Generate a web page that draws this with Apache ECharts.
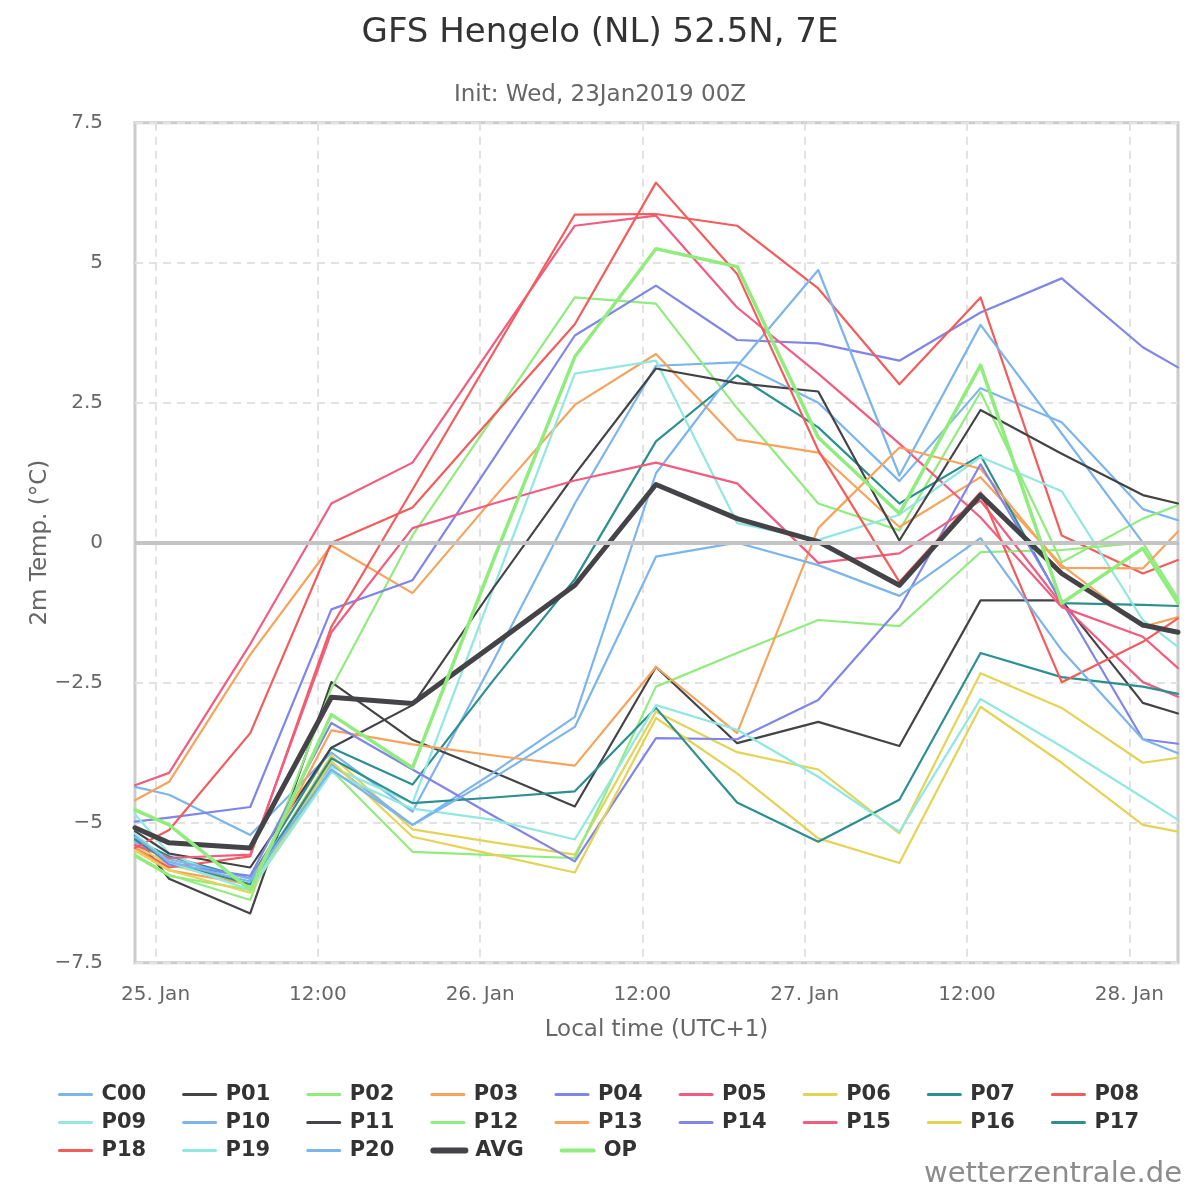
<!DOCTYPE html>
<html>
<head>
<meta charset="utf-8">
<title>GFS Hengelo</title>
<script src="https://cdn.jsdelivr.net/npm/echarts/dist/echarts.min.js"></script>
<style>
  html, body { margin: 0; padding: 0; background: #fff; }
  #chart { width: 1200px; height: 1200px; }
</style>
</head>
<body>
<div id="chart"></div>
<script>
// hours since 25 Jan 00:00 local (UTC+1); first and last points sit on the plot edges
const hours = [-1.52, 1, 7, 13, 19, 25, 31, 37, 43, 49, 55, 61, 67, 73, 75.6];

const xTickHours = [0, 12, 24, 36, 48, 60, 72];
const xTickLabels = ["25. Jan", "12:00", "26. Jan", "12:00", "27. Jan", "12:00", "28. Jan"];

// 2m temperature (°C) per member
const C00 = [-4.36, -4.5, -5.22, -3.75, -4.8, -2.1, 0.7, 3.16, 3.22, 2.5, 1.1, 2.76, 2.15, 0.6, 0.4];
const P01 = [-5.22, -6.0, -6.62, -2.49, -3.52, -4.1, -4.71, -2.22, -3.58, -3.2, -3.63, -1.03, -1.03, -2.86, -3.05];
const P02 = [-5.57, -5.93, -6.38, -2.6, 0.13, 2.25, 4.38, 4.27, 2.4, 0.7, 0.22, 2.69, -0.35, 0.43, 0.67];
const P03 = [-4.6, -4.27, -2.0, -0.05, -0.9, 0.8, 2.46, 3.37, 1.84, 1.61, 0.28, 1.17, -0.4, -1.5, -1.33];
const P04 = [-4.98, -4.91, -4.72, -1.19, -0.67, 1.5, 3.7, 4.59, 3.62, 3.56, 3.25, 4.11, 4.72, 3.49, 3.13];
const P05 = [-4.33, -4.11, -1.81, 0.7, 1.43, 3.55, 5.66, 5.84, 4.2, 3.02, 1.77, 0.45, -1.15, -1.68, -2.24];
const P06 = [-5.4, -5.75, -6.1, -3.8, -5.12, -5.35, -5.57, -3.02, -3.74, -4.05, -5.19, -2.33, -2.95, -3.93, -3.84];
const P07 = [-5.3, -5.6, -6.0, -3.66, -4.32, -2.45, -0.65, 1.81, 2.99, 2.06, 0.7, 1.56, -1.08, -1.11, -1.13];
const P08 = [-5.45, -5.8, -5.6, -1.5, 0.95, 3.4, 5.86, 5.87, 5.66, 4.54, 2.83, 4.38, 0.13, -0.55, -0.31];
const P09 = [-4.85, -5.55, -6.15, -4.0, -4.65, -0.8, 3.02, 3.25, 0.35, 0.05, 0.5, 1.53, 0.92, -1.38, -1.86];
const P10 = [-5.35, -5.65, -6.0, -3.95, -5.04, -4.1, -3.11, 1.24, 3.15, 4.87, 1.2, 3.89, 1.95, 0.0, -0.02];
const P11 = [-5.15, -5.55, -5.8, -3.66, -2.9, -0.8, 1.22, 3.11, 2.85, 2.7, 0.04, 2.37, 1.59, 0.85, 0.7];
const P12 = [-5.6, -5.95, -6.2, -4.06, -5.52, -5.58, -5.63, -2.57, -1.97, -1.38, -1.49, -0.17, -0.13, 0.0, -1.0];
const P13 = [-5.45, -5.85, -6.1, -3.35, -3.6, -3.8, -3.98, -2.22, -3.4, 0.26, 1.7, 1.32, -0.45, -0.46, 0.2];
const P14 = [-5.25, -5.75, -5.95, -3.22, -4.05, -4.88, -5.69, -3.49, -3.51, -2.81, -1.17, 1.4, -1.05, -3.51, -3.59];
const P15 = [-5.4, -5.63, -5.57, -1.6, 0.26, 0.7, 1.11, 1.43, 1.06, -0.36, -0.19, 0.75, -1.1, -2.49, -2.75];
const P16 = [-5.5, -5.85, -6.25, -3.9, -5.25, -5.57, -5.89, -3.13, -4.12, -5.28, -5.72, -2.93, -3.93, -5.04, -5.16];
const P17 = [-5.3, -5.7, -6.1, -3.85, -4.65, -4.55, -4.44, -2.95, -4.64, -5.34, -4.59, -1.97, -2.4, -2.57, -2.7];
const P18 = [-5.45, -5.13, -3.4, 0.0, 0.63, 2.27, 3.9, 6.43, 4.8, 1.65, -0.7, 0.9, -2.49, -1.77, -1.35];
const P19 = [-5.2, -5.7, -6.2, -4.1, -4.75, -4.95, -5.3, -2.9, -3.34, -4.18, -5.16, -2.79, -3.64, -4.55, -4.95];
const P20 = [-5.25, -5.7, -6.05, -4.05, -5.04, -4.2, -3.29, -0.25, 0.0, -0.4, -0.95, 0.08, -1.92, -3.51, -3.76];
const AVG = [-5.09, -5.36, -5.45, -2.76, -2.87, -1.82, -0.76, 1.04, 0.43, 0.02, -0.76, 0.85, -0.55, -1.47, -1.6];
const OP = [-4.77, -5.04, -6.2, -3.07, -4.02, -0.3, 3.32, 5.25, 4.93, 1.88, 0.52, 3.17, -1.08, -0.1, -1.08];

const seriesNames = ["C00", "P01", "P02", "P03", "P04", "P05", "P06", "P07", "P08", "P09",
  "P10", "P11", "P12", "P13", "P14", "P15", "P16", "P17", "P18", "P19", "P20", "AVG", "OP"];
const seriesValues = [C00, P01, P02, P03, P04, P05, P06, P07, P08, P09,
  P10, P11, P12, P13, P14, P15, P16, P17, P18, P19, P20, AVG, OP];

const palette = ["#7cb5ec", "#434348", "#90ed7d", "#f7a35c", "#8085e9",
  "#f15c80", "#e4d354", "#2b908f", "#f45b5b", "#91e8e1"];

const legendRows = [
  ["C00", "P01", "P02", "P03", "P04", "P05", "P06", "P07", "P08"],
  ["P09", "P10", "P11", "P12", "P13", "P14", "P15", "P16", "P17"],
  ["P18", "P19", "P20", "AVG", "OP"],
];

const FONT = "DejaVu Sans";

function lineWidthOf(name) {
  if (name === "AVG") return 5;
  if (name === "OP") return 3.5;
  return 2.2;
}

const series = seriesNames.map((name, i) => {
  let color = palette[i % palette.length];
  if (name === "AVG") color = "#434348";
  if (name === "OP") color = "#90ed7d";
  const s = {
    name: name,
    type: "line",
    symbol: "none",
    silent: true,
    color: color,
    lineStyle: { color: color, width: lineWidthOf(name), join: "round", cap: "round" },
    data: hours.map((h, k) => [h, seriesValues[i][k]]),
  };
  if (i === 0) {
    // zero plot line
    s.markLine = {
      silent: true,
      symbol: "none",
      label: { show: false },
      lineStyle: { color: "#c4c4c4", width: 4, type: "solid" },
      data: [{ yAxis: 0 }],
    };
  }
  return s;
});

const chart = echarts.init(document.getElementById("chart"));

chart.setOption({
  animation: false,
  backgroundColor: "#ffffff",
  textStyle: { fontFamily: FONT },
  title: [
    {
      text: "GFS Hengelo (NL) 52.5N, 7E",
      left: "center",
      top: 11,
      textStyle: { fontFamily: FONT, fontSize: 34, fontWeight: "normal", color: "#333333" },
    },
    {
      text: "Init: Wed, 23Jan2019 00Z",
      left: "center",
      top: 79,
      textStyle: { fontFamily: FONT, fontSize: 23, fontWeight: "normal", color: "#666666" },
    },
  ],
  legend: legendRows.map((row, r) => ({
    data: row.map((name) => ({
      name: name,
      lineStyle: { width: name === "AVG" ? 6 : name === "OP" ? 4 : 3 },
    })),
    left: 58,
    top: 1084 + r * 28,
    padding: 0,
    orient: "horizontal",
    itemWidth: 32,
    itemHeight: 14,
    itemGap: 36,
    selectedMode: false,
    itemStyle: { opacity: 0 },
    textStyle: {
      fontFamily: FONT,
      fontSize: 21,
      fontWeight: "bold",
      color: "#333333",
      padding: [0, 0, 0, 5],
    },
  })),
  grid: {
    left: 135,
    right: 22,
    top: 122.7,
    bottom: 237.3,
    show: true,
    borderColor: "#cccccc",
    borderWidth: 3,
    backgroundColor: "transparent",
  },
  xAxis: {
    type: "value",
    min: hours[0],
    max: hours[hours.length - 1],
    name: "Local time (UTC+1)",
    nameLocation: "middle",
    nameGap: 56,
    nameTextStyle: { fontFamily: FONT, fontSize: 23, color: "#666666" },
    axisLine: { show: false },
    axisTick: { show: false, customValues: xTickHours },
    axisLabel: {
      customValues: xTickHours,
      margin: 22,
      fontFamily: FONT,
      fontSize: 20,
      color: "#666666",
      formatter: (v) => xTickLabels[xTickHours.indexOf(v)],
    },
    splitLine: {
      show: true,
      lineStyle: { color: "#e2e2e2", width: 2, type: [8, 6] },
    },
  },
  yAxis: {
    type: "value",
    min: -7.5,
    max: 7.5,
    interval: 2.5,
    name: "2m Temp. (°C)",
    nameLocation: "middle",
    nameGap: 83,
    nameMoveOverlap: false,
    nameRotate: 90,
    nameTextStyle: { fontFamily: FONT, fontSize: 23, color: "#666666" },
    axisLine: { show: false },
    axisTick: { show: false },
    axisLabel: {
      margin: 32,
      fontFamily: FONT,
      fontSize: 20,
      color: "#666666",
      formatter: (v) => (v < 0 ? "\u2212" + Math.abs(v) : String(v)),
    },
    splitLine: {
      show: true,
      lineStyle: { color: "#e2e2e2", width: 2, type: [8, 6] },
    },
  },
  graphic: [
    {
      type: "text",
      right: 18,
      top: 1160,
      style: {
        text: "wetterzentrale.de",
        font: '29px "DejaVu Sans"',
        fill: "#8c8c8c",
      },
    },
  ],
  series: series,
});
</script>
</body>
</html>
